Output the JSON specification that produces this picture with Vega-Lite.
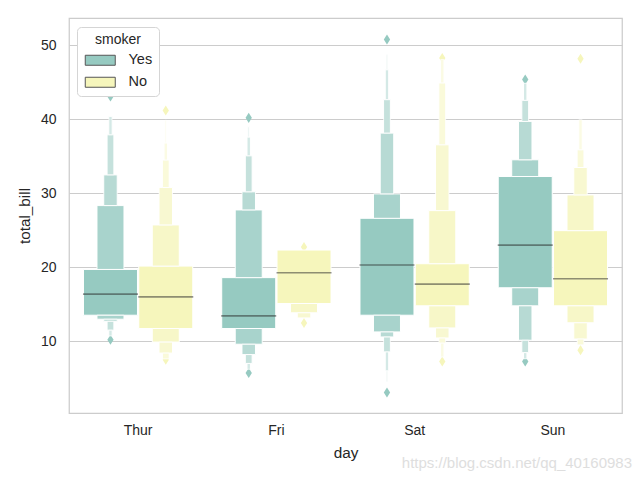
{
  "$schema": "https://vega.github.io/schema/vega-lite/v6.json",
  "width": 553,
  "height": 395,
  "autosize": "none",
  "padding": {"left": 69, "top": 18, "right": 18, "bottom": 67},
  "background": "white",
  "title": {"text": "https://blog.csdn.net/qq_40160983", "orient": "bottom", "anchor": "end", "frame": "group", "offset": -4, "dx": 10, "fontSize": 15, "fontWeight": "normal", "color": "#dedede", "font": "Liberation Sans"},
  "config": {
    "font": "Liberation Sans",
    "view": {"stroke": "#cccccc", "strokeWidth": 1.25},
    "axis": {"labelColor": "#262626", "titleColor": "#262626", "labelFont": "Liberation Sans", "titleFont": "Liberation Sans", "labelFontSize": 14, "titleFontSize": 15.3, "titleFontWeight": "normal", "domain": false, "ticks": false, "tickSize": 0, "gridColor": "#cccccc", "gridWidth": 1},
    "legend": {"orient": "none", "legendX": 8, "legendY": 9, "fillColor": "white", "strokeColor": "#d5d5d5", "cornerRadius": 4, "padding": 6, "titleFont": "Liberation Sans", "labelFont": "Liberation Sans", "titleFontSize": 14, "titleFontWeight": "normal", "titleColor": "#262626", "labelFontSize": 14.5, "labelColor": "#262626", "symbolType": "M-1,-1H5V1H-1Z", "symbolSize": 100, "symbolStrokeColor": "#555555", "symbolStrokeWidth": 1, "symbolOpacity": 1, "rowPadding": 6, "titleAnchor": "middle", "titleAlign": "center", "labelOffset": 31, "titlePadding": 6}
  },
  "datasets": {
    "boxes": [
      {"day": "Thur", "smoker": "Yes", "level": 1, "lo": 13.52, "hi": 19.71},
      {"day": "Thur", "smoker": "Yes", "level": 2, "lo": 19.71, "hi": 28.34},
      {"day": "Thur", "smoker": "Yes", "level": 2, "lo": 12.98, "hi": 13.52},
      {"day": "Thur", "smoker": "Yes", "level": 3, "lo": 28.34, "hi": 32.49},
      {"day": "Thur", "smoker": "Yes", "level": 3, "lo": 12.7, "hi": 12.98},
      {"day": "Thur", "smoker": "Yes", "level": 4, "lo": 32.49, "hi": 37.91},
      {"day": "Thur", "smoker": "Yes", "level": 4, "lo": 11.5, "hi": 12.7},
      {"day": "Thur", "smoker": "Yes", "level": 5, "lo": 37.91, "hi": 40.4},
      {"day": "Thur", "smoker": "Yes", "level": 5, "lo": 10.7, "hi": 11.5},
      {"day": "Thur", "smoker": "No", "level": 1, "lo": 11.72, "hi": 20.16},
      {"day": "Thur", "smoker": "No", "level": 2, "lo": 20.16, "hi": 25.72},
      {"day": "Thur", "smoker": "No", "level": 2, "lo": 9.89, "hi": 11.72},
      {"day": "Thur", "smoker": "No", "level": 3, "lo": 25.72, "hi": 30.78},
      {"day": "Thur", "smoker": "No", "level": 3, "lo": 8.4, "hi": 9.89},
      {"day": "Thur", "smoker": "No", "level": 4, "lo": 30.78, "hi": 34.5},
      {"day": "Thur", "smoker": "No", "level": 4, "lo": 7.6, "hi": 8.4},
      {"day": "Thur", "smoker": "No", "level": 5, "lo": 34.5, "hi": 36.8},
      {"day": "Thur", "smoker": "No", "level": 6, "lo": 36.8, "hi": 39.9},
      {"day": "Fri", "smoker": "Yes", "level": 1, "lo": 11.72, "hi": 18.6},
      {"day": "Fri", "smoker": "Yes", "level": 2, "lo": 18.6, "hi": 27.75},
      {"day": "Fri", "smoker": "Yes", "level": 2, "lo": 9.6, "hi": 11.72},
      {"day": "Fri", "smoker": "Yes", "level": 3, "lo": 27.75, "hi": 30.2},
      {"day": "Fri", "smoker": "Yes", "level": 3, "lo": 8.2, "hi": 9.6},
      {"day": "Fri", "smoker": "Yes", "level": 4, "lo": 30.2, "hi": 35.07},
      {"day": "Fri", "smoker": "Yes", "level": 4, "lo": 7.0, "hi": 8.2},
      {"day": "Fri", "smoker": "Yes", "level": 5, "lo": 35.07, "hi": 37.6},
      {"day": "Fri", "smoker": "Yes", "level": 5, "lo": 6.2, "hi": 7.0},
      {"day": "Fri", "smoker": "Yes", "level": 6, "lo": 37.6, "hi": 39.0},
      {"day": "Fri", "smoker": "No", "level": 1, "lo": 15.1, "hi": 22.33},
      {"day": "Fri", "smoker": "No", "level": 2, "lo": 13.85, "hi": 15.1},
      {"day": "Fri", "smoker": "No", "level": 3, "lo": 13.15, "hi": 13.85},
      {"day": "Sat", "smoker": "Yes", "level": 1, "lo": 13.52, "hi": 26.62},
      {"day": "Sat", "smoker": "Yes", "level": 2, "lo": 26.62, "hi": 29.92},
      {"day": "Sat", "smoker": "Yes", "level": 2, "lo": 11.26, "hi": 13.52},
      {"day": "Sat", "smoker": "Yes", "level": 3, "lo": 29.92, "hi": 38.14},
      {"day": "Sat", "smoker": "Yes", "level": 3, "lo": 10.58, "hi": 11.26},
      {"day": "Sat", "smoker": "Yes", "level": 4, "lo": 38.14, "hi": 42.66},
      {"day": "Sat", "smoker": "Yes", "level": 4, "lo": 8.56, "hi": 10.58},
      {"day": "Sat", "smoker": "Yes", "level": 5, "lo": 42.66, "hi": 46.7},
      {"day": "Sat", "smoker": "Yes", "level": 5, "lo": 6.0, "hi": 8.56},
      {"day": "Sat", "smoker": "Yes", "level": 6, "lo": 46.7, "hi": 48.75},
      {"day": "Sat", "smoker": "Yes", "level": 6, "lo": 4.5, "hi": 6.0},
      {"day": "Sat", "smoker": "No", "level": 1, "lo": 14.79, "hi": 20.48},
      {"day": "Sat", "smoker": "No", "level": 2, "lo": 20.48, "hi": 27.66},
      {"day": "Sat", "smoker": "No", "level": 2, "lo": 11.8, "hi": 14.79},
      {"day": "Sat", "smoker": "No", "level": 3, "lo": 27.66, "hi": 36.56},
      {"day": "Sat", "smoker": "No", "level": 3, "lo": 10.44, "hi": 11.8},
      {"day": "Sat", "smoker": "No", "level": 4, "lo": 36.56, "hi": 44.92},
      {"day": "Sat", "smoker": "No", "level": 4, "lo": 9.75, "hi": 10.44},
      {"day": "Sat", "smoker": "No", "level": 5, "lo": 44.92, "hi": 48.1},
      {"day": "Sat", "smoker": "No", "level": 5, "lo": 7.86, "hi": 9.75},
      {"day": "Sun", "smoker": "Yes", "level": 1, "lo": 17.23, "hi": 32.27},
      {"day": "Sun", "smoker": "Yes", "level": 2, "lo": 32.27, "hi": 34.53},
      {"day": "Sun", "smoker": "Yes", "level": 2, "lo": 14.79, "hi": 17.23},
      {"day": "Sun", "smoker": "Yes", "level": 3, "lo": 34.53, "hi": 39.72},
      {"day": "Sun", "smoker": "Yes", "level": 3, "lo": 10.14, "hi": 14.79},
      {"day": "Sun", "smoker": "Yes", "level": 4, "lo": 39.72, "hi": 42.57},
      {"day": "Sun", "smoker": "Yes", "level": 4, "lo": 8.46, "hi": 10.14},
      {"day": "Sun", "smoker": "Yes", "level": 5, "lo": 42.57, "hi": 44.9},
      {"day": "Sun", "smoker": "Yes", "level": 5, "lo": 7.6, "hi": 8.46},
      {"day": "Sun", "smoker": "No", "level": 1, "lo": 14.79, "hi": 24.95},
      {"day": "Sun", "smoker": "No", "level": 2, "lo": 24.95, "hi": 29.78},
      {"day": "Sun", "smoker": "No", "level": 2, "lo": 12.5, "hi": 14.79},
      {"day": "Sun", "smoker": "No", "level": 3, "lo": 29.78, "hi": 33.49},
      {"day": "Sun", "smoker": "No", "level": 3, "lo": 10.3, "hi": 12.5},
      {"day": "Sun", "smoker": "No", "level": 4, "lo": 33.49, "hi": 35.88},
      {"day": "Sun", "smoker": "No", "level": 4, "lo": 9.5, "hi": 10.3},
      {"day": "Sun", "smoker": "No", "level": 5, "lo": 35.88, "hi": 39.95}
    ],
    "medians": [
      {"day": "Thur", "smoker": "Yes", "median": 16.37},
      {"day": "Thur", "smoker": "No", "median": 16.0},
      {"day": "Fri", "smoker": "Yes", "median": 13.43},
      {"day": "Fri", "smoker": "No", "median": 19.26},
      {"day": "Sat", "smoker": "Yes", "median": 20.3},
      {"day": "Sat", "smoker": "No", "median": 17.72},
      {"day": "Sun", "smoker": "Yes", "median": 23.0},
      {"day": "Sun", "smoker": "No", "median": 18.45}
    ],
    "outliers": [
      {"day": "Thur", "smoker": "Yes", "total_bill": 43.1},
      {"day": "Thur", "smoker": "Yes", "total_bill": 10.2},
      {"day": "Thur", "smoker": "No", "total_bill": 41.2},
      {"day": "Thur", "smoker": "No", "total_bill": 7.5},
      {"day": "Fri", "smoker": "Yes", "total_bill": 40.2},
      {"day": "Fri", "smoker": "Yes", "total_bill": 5.7},
      {"day": "Fri", "smoker": "No", "total_bill": 22.75},
      {"day": "Fri", "smoker": "No", "total_bill": 12.46},
      {"day": "Sat", "smoker": "Yes", "total_bill": 50.8},
      {"day": "Sat", "smoker": "Yes", "total_bill": 3.07},
      {"day": "Sat", "smoker": "No", "total_bill": 48.3},
      {"day": "Sat", "smoker": "No", "total_bill": 7.25},
      {"day": "Sun", "smoker": "Yes", "total_bill": 45.4},
      {"day": "Sun", "smoker": "Yes", "total_bill": 7.25},
      {"day": "Sun", "smoker": "No", "total_bill": 48.2},
      {"day": "Sun", "smoker": "No", "total_bill": 8.8}
    ]
  },
  "encoding": {
    "x": {"field": "day", "type": "nominal", "scale": {"domain": ["Thur", "Fri", "Sat", "Sun"], "paddingInner": 0, "paddingOuter": 0}, "axis": {"labelAngle": 0, "labelPadding": 10, "title": "day", "titlePadding": 8, "grid": false}},
    "xOffset": {"field": "smoker", "type": "nominal", "scale": {"domain": ["Yes", "No"], "paddingInner": 0, "paddingOuter": 0.25}}
  },
  "layer": [
    {
      "data": {"name": "outliers"},
      "mark": {"type": "point", "shape": "M0,-1.2L0.75,0L0,1.2L-0.75,0Z", "filled": true, "opacity": 1, "size": 70},
      "encoding": {
        "y": {"field": "total_bill", "type": "quantitative", "title": "total_bill", "scale": {"domain": [0.3, 53.7], "nice": false, "zero": false}, "axis": {"values": [10, 20, 30, 40, 50], "grid": true, "labelPadding": 13, "titlePadding": 8}},
        "fill": {"field": "smoker", "type": "nominal", "scale": {"domain": ["Yes", "No"], "range": ["#96CAC1", "#F6F6BC"]}, "title": "smoker"}
      }
    },
    {
      "data": {"name": "boxes"},
      "mark": {"type": "bar", "orient": "vertical", "fill": "white", "strokeWidth": 0},
      "encoding": {
        "y": {"field": "lo", "type": "quantitative", "title": "total_bill"},
        "y2": {"field": "hi"},
        "size": {"field": "level", "type": "quantitative", "scale": {"type": "threshold", "domain": [1.5, 2.5, 3.5, 4.5, 5.5], "range": [54, 27, 13.5, 6.8, 3.4, 1.7]}, "legend": null}
      }
    },
    {
      "data": {"name": "boxes"},
      "mark": {"type": "bar", "orient": "vertical", "stroke": "white", "strokeWidth": 1},
      "encoding": {
        "y": {"field": "lo", "type": "quantitative", "title": "total_bill"},
        "y2": {"field": "hi"},
        "size": {"field": "level", "type": "quantitative", "scale": {"type": "threshold", "domain": [1.5, 2.5, 3.5, 4.5, 5.5], "range": [54, 27, 13.5, 6.8, 3.4, 1.7]}, "legend": null},
        "fill": {"field": "smoker", "type": "nominal", "title": "smoker"},
        "opacity": {"field": "level", "type": "quantitative", "scale": {"type": "threshold", "domain": [1.5, 2.5, 3.5, 4.5, 5.5], "range": [1, 0.82, 0.68, 0.55, 0.4, 0.25]}, "legend": null}
      }
    },
    {
      "data": {"name": "medians"},
      "mark": {"type": "tick", "color": "#262626", "opacity": 0.5, "thickness": 1.6, "size": 55},
      "encoding": {
        "y": {"field": "median", "type": "quantitative", "title": "total_bill"}
      }
    }
  ]
}
